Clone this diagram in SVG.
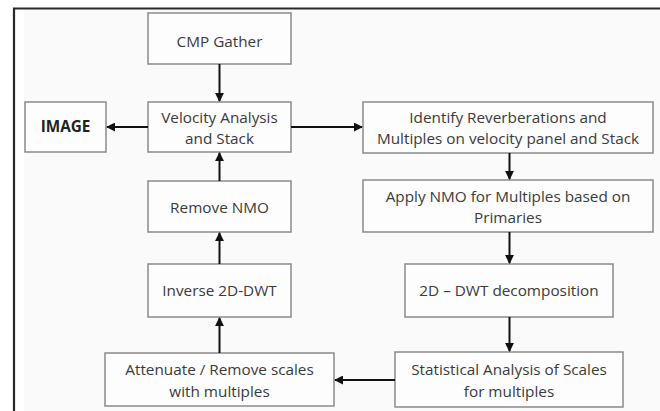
<svg xmlns="http://www.w3.org/2000/svg" width="660" height="411" viewBox="0 0 660 411">
<defs>
<marker id="ah" viewBox="0 0 10 10" refX="9" refY="5" markerWidth="9" markerHeight="9" markerUnits="userSpaceOnUse" orient="auto">
<path d="M0,0 L10,5 L0,10 Z" fill="#111"/>
</marker>
</defs>
<style>
.box{fill:#fdfdfd;stroke:#8a8a8a;stroke-width:1.5}
.t{font-family:"Open Sans","Liberation Sans",sans-serif;font-size:15.3px;fill:#3a3a3a;text-anchor:middle}
.b{font-weight:bold;fill:#222}
.c{stroke:#111;stroke-width:2;fill:none;marker-end:url(#ah)}
</style>
<rect x="0" y="0" width="660" height="411" fill="#ffffff"/>
<rect x="24" y="10" width="636" height="401" fill="#fafafa"/>
<path d="M14,411 L14,8.5 L660,8.5" fill="none" stroke="#2a2a2a" stroke-width="2.2"/>

<g id="cmp"><rect class="box" x="148" y="13" width="143" height="51"/><text class="t" x="219.5" y="47">CMP Gather</text></g>
<g id="velocity"><rect class="box" x="148" y="102" width="143" height="50"/><text class="t" x="219.5" y="123">Velocity Analysis</text><text class="t" x="219.5" y="144">and Stack</text></g>
<g id="image"><rect class="box" x="25" y="102" width="81" height="50"/><text class="t b" x="65.5" y="132">IMAGE</text></g>
<g id="removenmo"><rect class="box" x="148" y="181" width="143" height="51"/><text class="t" x="219.5" y="213">Remove NMO</text></g>
<g id="inverse"><rect class="box" x="148" y="264" width="143" height="53"/><text class="t" x="219.5" y="296">Inverse 2D-DWT</text></g>
<g id="attenuate"><rect class="box" x="105" y="353" width="229" height="53"/><text class="t" x="219.5" y="375">Attenuate / Remove scales</text><text class="t" x="219.5" y="397">with multiples</text></g>
<g id="identify"><rect class="box" x="363" y="102" width="290" height="51"/><text class="t" x="508" y="123">Identify Reverberations and</text><text class="t" x="508" y="144">Multiples on velocity panel and Stack</text></g>
<g id="applynmo"><rect class="box" x="363" y="180" width="290" height="52"/><text class="t" x="508" y="202">Apply NMO for Multiples based on</text><text class="t" x="508" y="223">Primaries</text></g>
<g id="dwt"><rect class="box" x="405" y="264" width="208" height="53"/><text class="t" x="509" y="296">2D – DWT decomposition</text></g>
<g id="statistical"><rect class="box" x="395" y="352" width="228" height="55"/><text class="t" x="509" y="375">Statistical Analysis of Scales</text><text class="t" x="509" y="397">for multiples</text></g>

<g id="connectors">
<line class="c" x1="219.5" y1="64" x2="219.5" y2="101"/>
<line class="c" x1="148" y1="127" x2="107" y2="127"/>
<line class="c" x1="291" y1="127" x2="362" y2="127"/>
<line class="c" x1="509.5" y1="153" x2="509.5" y2="179"/>
<line class="c" x1="509.5" y1="232" x2="509.5" y2="263"/>
<line class="c" x1="509.5" y1="317" x2="509.5" y2="351"/>
<line class="c" x1="395" y1="380" x2="335" y2="380"/>
<line class="c" x1="219.5" y1="353" x2="219.5" y2="318"/>
<line class="c" x1="219.5" y1="264" x2="219.5" y2="233"/>
<line class="c" x1="219.5" y1="181" x2="219.5" y2="153"/>
</g>
</svg>
